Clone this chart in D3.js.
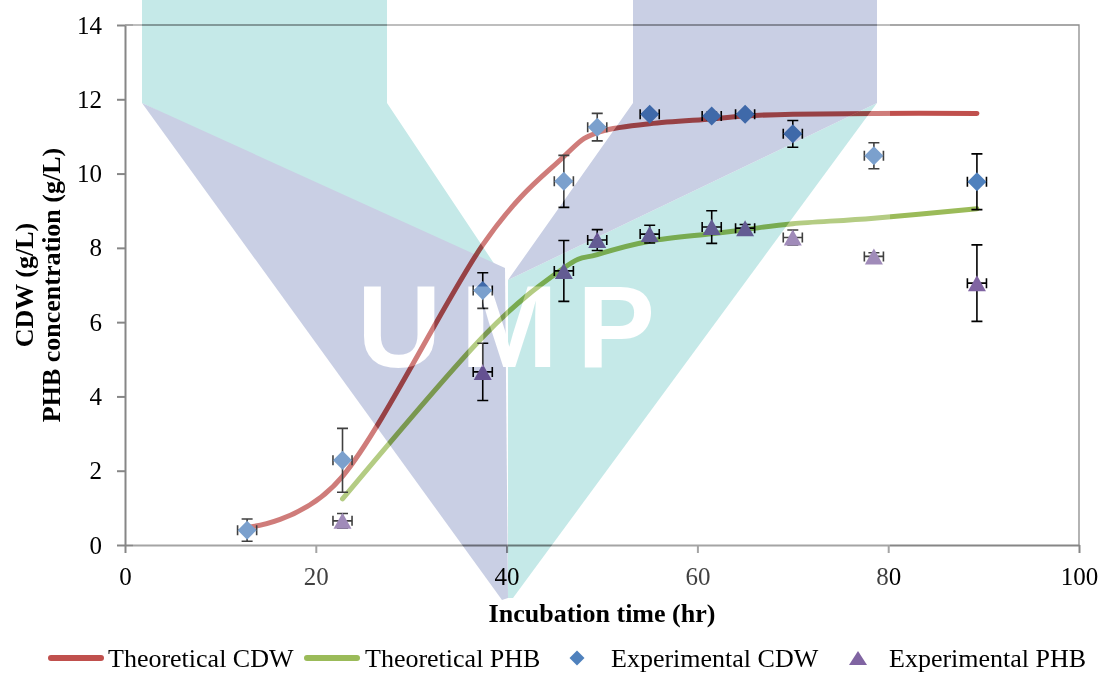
<!DOCTYPE html>
<html>
<head>
<meta charset="utf-8">
<script src="https://cdn.jsdelivr.net/npm/d3@7"></script>
<style>
    html, body { margin: 0; padding: 0; background: #ffffff; }
    svg { display: block; font-family: "Liberation Serif", "Times New Roman", serif; }
    .axis path, .axis line { stroke: #868686; }
    .axis text { font-size: 25px; fill: #000000; font-family: "Liberation Serif", "Times New Roman", serif; }
    .title { font-weight: bold; font-size: 26px; }
    .legend text { font-size: 26px; }
</style>
</head>
<body>
<div id="chartDiv"></div>
<script>
// sampling times (hr)
const hours = [12.8, 22.8, 37.5, 46, 49.5, 55, 61.5, 65, 70, 78.5, 89.3];
const phbHours = hours.slice(1);

// theoretical curves (g/L)
const cdwTheory = [0.48, 1.85, 8.08, 10.46, 11.1, 11.34, 11.47, 11.55, 11.6, 11.62, 11.62];
const phbTheory = [1.24, 5.6, 7.46, 7.82, 8.18, 8.38, 8.49, 8.65, 8.8, 9.05];

// experimental values and error bars (g/L)
const cdwExp = [0.4, 2.28, 6.85, 9.79, 11.25, 11.6, 11.55, 11.6, 11.07, 10.48, 9.78];
const cdwErr = [0.3, 0.86, 0.48, 0.7, 0.37, 0.05, 0.1, 0.05, 0.36, 0.35, 0.75];
const phbExp = [0.65, 4.66, 7.38, 8.21, 8.37, 8.56, 8.53, 8.28, 7.77, 7.05];
const phbErr = [0.2, 0.77, 0.82, 0.28, 0.24, 0.44, 0.1, 0.2, 0.1, 1.03];
const timeErr = 1;

const xTicks = [0, 20, 40, 60, 80, 100];
const yTicks = [0, 2, 4, 6, 8, 10, 12, 14];

const colors = { cdwLine: '#c0504d', phbLine: '#9bbb59', cdwPt: '#4f81bd', phbPt: '#8064a2' };

const W = 1103, H = 673;
const plot = { left: 125, right: 1079, top: 25, bottom: 545 };

const svg = d3.create('svg').attr('width', W).attr('height', H);

const x = d3.scaleLinear().domain([0, 100]).range([plot.left, plot.right]);
const y = d3.scaleLinear().domain([0, 14]).range([plot.bottom, plot.top]);

// plot frame (top + right)
svg.append('path')
    .attr('d', `M${plot.left},${plot.top}H${plot.right}V${plot.bottom}`)
    .attr('fill', 'none')
    .attr('stroke', '#8c8c8c')
    .attr('stroke-width', 1.3);

svg.append('g')
    .attr('class', 'axis y')
    .attr('transform', `translate(${plot.left},0)`)
    .call(d3.axisLeft(y).tickValues(yTicks).tickSize(8).tickSizeOuter(0).tickPadding(15))
    .call(g => g.selectAll('path, line').attr('stroke-width', 2));

svg.append('g')
    .attr('class', 'axis x')
    .attr('transform', `translate(0,${plot.bottom})`)
    .call(d3.axisBottom(x).tickValues(xTicks).tickSize(8).tickSizeOuter(0).tickPadding(14))
    .call(g => g.selectAll('path, line').attr('stroke-width', 2));

// axis titles
svg.append('text').attr('class', 'title')
    .attr('x', 602).attr('y', 622).attr('text-anchor', 'middle')
    .text('Incubation time (hr)');
svg.append('text').attr('class', 'title')
    .attr('transform', 'translate(33,285) rotate(-90)').attr('text-anchor', 'middle')
    .text('CDW (g/L)');
svg.append('text').attr('class', 'title')
    .attr('transform', 'translate(60,285) rotate(-90)').attr('text-anchor', 'middle')
    .text('PHB concentration (g/L)');

// theoretical curves
const line = d3.line()
    .x(d => x(d[0]))
    .y(d => y(d[1]))
    .curve(d3.curveCardinal.tension(0));

svg.append('path')
    .datum(d3.zip(hours, cdwTheory))
    .attr('fill', 'none')
    .attr('stroke', colors.cdwLine)
    .attr('stroke-width', 5)
    .attr('stroke-linecap', 'round')
    .attr('d', line);

svg.append('path')
    .datum(d3.zip(phbHours, phbTheory))
    .attr('fill', 'none')
    .attr('stroke', colors.phbLine)
    .attr('stroke-width', 5)
    .attr('stroke-linecap', 'round')
    .attr('d', line);

// error bars
function errorBars(ts, vals, errs) {
    const g = svg.append('g')
        .attr('stroke', '#000000')
        .attr('stroke-width', 1.6)
        .attr('fill', 'none');
    const rows = d3.zip(ts, vals, errs);
    g.selectAll('.ev')
        .data(rows)
        .enter().append('path')
        .attr('d', d => {
            const cx = x(d[0]), y1 = y(d[1] + d[2]), y2 = y(d[1] - d[2]);
            return `M${cx},${y1}V${y2}M${cx - 5.5},${y1}H${cx + 5.5}M${cx - 5.5},${y2}H${cx + 5.5}`;
        });
    g.selectAll('.eh')
        .data(rows)
        .enter().append('path')
        .attr('d', d => {
            const cy = y(d[1]), x1 = x(d[0] - timeErr), x2 = x(d[0] + timeErr);
            return `M${x1},${cy}H${x2}M${x1},${cy - 5}V${cy + 5}M${x2},${cy - 5}V${cy + 5}`;
        });
}
errorBars(hours, cdwExp, cdwErr);
errorBars(phbHours, phbExp, phbErr);

const diamond = r => `M0,${-r}L${r},0L0,${r}L${-r},0Z`;
const triangle = (w, h) => `M0,${-h / 2}L${w / 2},${h / 2}L${-w / 2},${h / 2}Z`;

svg.append('g').selectAll('path')
    .data(d3.zip(hours, cdwExp))
    .enter().append('path')
    .attr('transform', d => `translate(${x(d[0])},${y(d[1])})`)
    .attr('d', diamond(9.5))
    .attr('fill', colors.cdwPt);

svg.append('g').selectAll('path')
    .data(d3.zip(phbHours, phbExp))
    .enter().append('path')
    .attr('transform', d => `translate(${x(d[0])},${y(d[1])})`)
    .attr('d', triangle(18, 16))
    .attr('fill', colors.phbPt);

// legend
const legend = svg.append('g').attr('class', 'legend');
const ly = 658;
legend.append('line').attr('x1', 51).attr('x2', 101).attr('y1', ly).attr('y2', ly)
    .attr('stroke', colors.cdwLine).attr('stroke-width', 6).attr('stroke-linecap', 'round');
legend.append('text').attr('x', 108).attr('y', 667).text('Theoretical CDW');
legend.append('line').attr('x1', 307).attr('x2', 357).attr('y1', ly).attr('y2', ly)
    .attr('stroke', colors.phbLine).attr('stroke-width', 6).attr('stroke-linecap', 'round');
legend.append('text').attr('x', 365).attr('y', 667).text('Theoretical PHB');
legend.append('path').attr('transform', `translate(577,${ly})`).attr('d', diamond(7.5)).attr('fill', colors.cdwPt);
legend.append('text').attr('x', 611).attr('y', 667).text('Experimental CDW');
legend.append('path').attr('transform', `translate(858,${ly})`).attr('d', triangle(18, 14)).attr('fill', colors.phbPt);
legend.append('text').attr('x', 889).attr('y', 667).text('Experimental PHB');

// UMP watermark overlay (background image of the scanned figure)
const wmTeal = [
    [[142, 0], [387, 0], [387, 103], [505, 280], [142, 103]],
    [[877, 103], [508, 280], [508, 598], [513, 598]]
];
const wmPurple = [
    [[142, 103], [505, 268], [508, 598], [502, 600]],
    [[633, 0], [877, 0], [877, 103], [508, 280], [633, 103]]
];
const defs = svg.append('defs');
const lettersMask = defs.append('mask').attr('id', 'wm-letters')
    .attr('maskUnits', 'userSpaceOnUse').attr('x', 0).attr('y', 0).attr('width', W).attr('height', H);
lettersMask.append('rect').attr('width', W).attr('height', H).attr('fill', '#fff');
const umpText = m => m.append('text')
    .attr('x', 357).attr('y', 367)
    .attr('textLength', 298).attr('lengthAdjust', 'spacing')
    .style('font-family', '"Liberation Sans", Arial, sans-serif')
    .style('font-weight', 'bold').style('font-size', '117px')
    .text('UMP');
umpText(lettersMask).attr('fill', '#000');

const haloMask = defs.append('mask').attr('id', 'wm-halo')
    .attr('maskUnits', 'userSpaceOnUse').attr('x', 0).attr('y', 0).attr('width', W).attr('height', H);
haloMask.append('rect').attr('width', W).attr('height', H).attr('fill', '#fff');
haloMask.selectAll('polygon').data(wmTeal.concat(wmPurple)).enter().append('polygon')
    .attr('points', d => d.join(' ')).attr('fill', '#000');
umpText(haloMask).attr('fill', '#fff');

svg.append('rect')
    .attr('x', 133).attr('y', 0).attr('width', 757).attr('height', 600)
    .attr('fill', '#ffffff').attr('opacity', 0.25)
    .attr('mask', 'url(#wm-halo)');

const wm = svg.append('g')
    .attr('mask', 'url(#wm-letters)')
    .style('mix-blend-mode', 'multiply');
wm.selectAll('.teal').data(wmTeal).enter().append('polygon')
    .attr('points', d => d.join(' ')).attr('fill', '#c5e9e8');
wm.selectAll('.purple').data(wmPurple).enter().append('polygon')
    .attr('points', d => d.join(' ')).attr('fill', '#c9cfe4');

d3.select('#chartDiv').append(() => svg.node());
</script>
</body>
</html>
